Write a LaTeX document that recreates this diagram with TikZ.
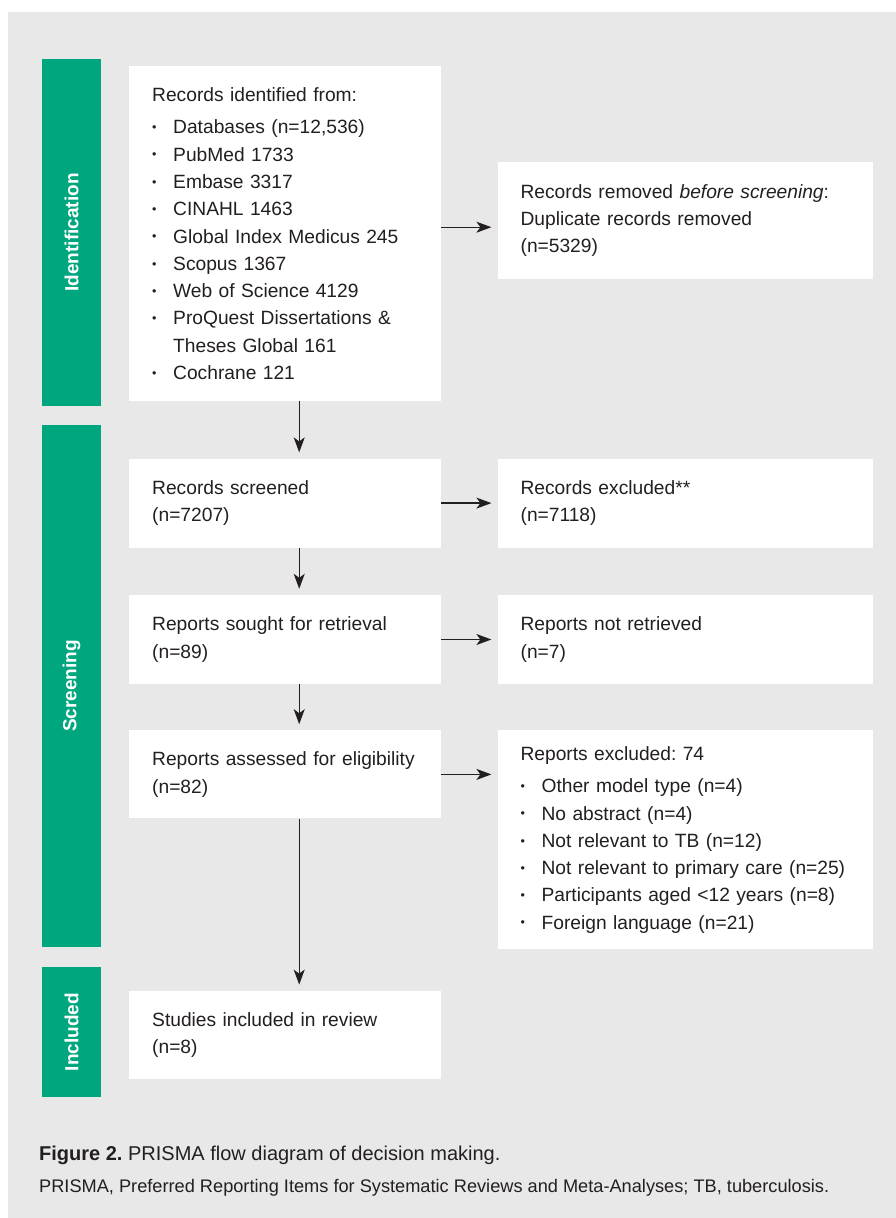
\documentclass[tikz,border=0pt]{standalone}
\usepackage{fontspec}
\setmainfont{Liberation Sans}
\usetikzlibrary{positioning,arrows.meta}
\definecolor{prgreen}{HTML}{00A67E}
\definecolor{prgray}{HTML}{E8E8E8}
\definecolor{prtext}{HTML}{231F20}
\newcommand{\bul}{\makebox[21pt][l]{\raisebox{.12em}{\scalebox{.65}{\textbullet}}}}
\frenchspacing

\begin{document}
\begin{tikzpicture}[
  x=1pt, y=-1pt,
  box/.style={fill=white, align=left, inner xsep=23pt, inner ysep=0pt, text=prtext,
    font=\fontsize{19.2}{27.3}\selectfont},
  leftbox/.style={box, text width=266pt, minimum height=88pt},
  rightbox/.style={box, text width=329pt, minimum height=88pt},
  phase/.style={fill=prgreen, text=white, font=\bfseries\fontsize{19}{22}\selectfont,
    rotate=90, minimum height=59pt, inner sep=0pt},
  arrow/.style={-{Stealth[length=15pt,width=11pt,inset=4pt]}, line width=1.3pt, draw=prtext, shorten >=6pt},
  node distance=47pt and 56pt
]
\useasboundingbox (0,0) rectangle (896,1218);
\fill[prgray] (8,12) rectangle (896,1218);

% phase bars
\node[phase, minimum width=347pt] (idbar) at (71.5,232.5) {Identification};
\node[phase, minimum width=522pt] (scbar) at (71.5,686) {Screening};
\node[phase, minimum width=130pt] (inbar) at (71.5,1032) {Included};

% main column
\node[leftbox, minimum height=335pt, anchor=north west] (ids) at (129,66) {Records identified from:\\[5pt]
  \bul Databases (n=12,536)\\
  \bul PubMed 1733\\
  \bul Embase 3317\\
  \bul CINAHL 1463\\
  \bul Global Index Medicus 245\\
  \bul Scopus 1367\\
  \bul Web of Science 4129\\
  \bul ProQuest Dissertations \&\\
  \hspace*{21pt}Theses Global 161\\
  \bul Cochrane 121};
\node[leftbox, minimum height=89pt, below=57pt of ids] (screened) {Records screened\\(n=7207)};
\node[leftbox, minimum height=89pt, below=of screened] (sought) {Reports sought for retrieval\\(n=89)};
\node[leftbox, below=46pt of sought] (assessed) {\mbox{Reports assessed for eligibility}\\(n=82)};
\node[leftbox, below=172pt of assessed] (incl) {Studies included in review\\(n=8)};

% side column
\node[rightbox, minimum height=117pt, below right=96pt and 56pt of ids.north east] (rem)
  {Records removed \textit{before screening}:\\Duplicate records removed\\(n=5329)};
\node[rightbox, minimum height=89pt, right=of screened] (excl) {Records excluded**\\(n=7118)};
\node[rightbox, minimum height=89pt, right=of sought] (notret) {Reports not retrieved\\(n=7)};
\node[rightbox, minimum height=219pt, below right=0pt and 56pt of assessed.north east] (rexcl)
  {Reports excluded: 74\\[5pt]
  \bul Other model type (n=4)\\
  \bul No abstract (n=4)\\
  \bul Not relevant to TB (n=12)\\
  \bul \mbox{Not relevant to primary care (n=25)}\\
  \bul Participants aged <12 years (n=8)\\
  \bul Foreign language (n=21)};

% arrows
\draw[arrow] ([yshift=6.5pt]ids.east) -- ([yshift=6.5pt]ids.east -| rem.west);
\draw[arrow] (screened) -- (excl);
\draw[arrow] (sought) -- (notret);
\draw[arrow] (assessed) -- (assessed -| rexcl.west);
\draw[arrow] ([xshift=14pt]ids.south) -- ([xshift=14pt]screened.north);
\draw[arrow] ([xshift=14pt]screened.south) -- ([xshift=14pt]sought.north);
\draw[arrow] ([xshift=14pt]sought.south) -- ([xshift=14pt]assessed.north);
\draw[arrow] ([xshift=14pt]assessed.south) -- ([xshift=14pt]incl.north);

% caption
\node[anchor=base west, inner sep=0pt, text=prtext, font=\fontsize{20}{24}\selectfont] (cap) at (39,1160)
  {\textbf{Figure 2.} PRISMA flow diagram of decision making.};
\node[anchor=base west, inner sep=0pt, text=prtext, font=\fontsize{18.2}{22}\selectfont] (note) at (39,1192)
  {PRISMA, Preferred Reporting Items for Systematic Reviews and Meta-Analyses; TB, tuberculosis.};
\end{tikzpicture}
\end{document}
